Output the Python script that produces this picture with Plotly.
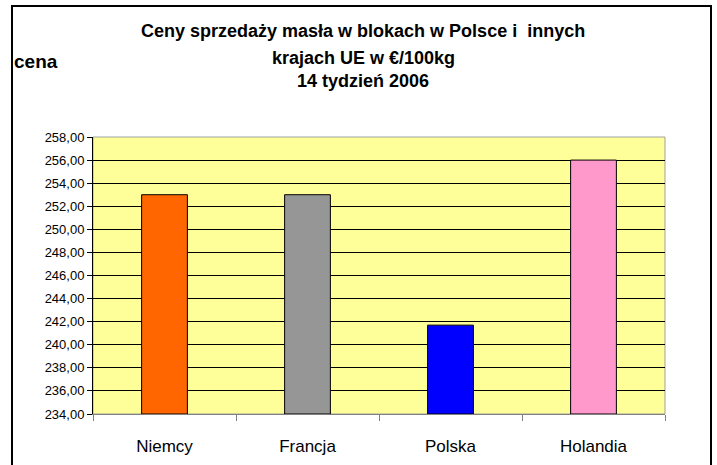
import plotly.graph_objects as go

categories = ["Niemcy", "Francja", "Polska", "Holandia"]
prices = [253.0, 253.0, 241.7, 256.0]
colors = ["#FF6600", "#969696", "#0000FF", "#FF99CC"]
title_lines = ["Ceny sprzedaży masła w blokach w Polsce i  innych",
               "krajach UE w €/100kg", "14 tydzień 2006"]
y_label = "cena"
y_min = 234

W, H = 717, 465
L, R, T, B = 93, 665, 137, 414
pw, ph = R - L, B - T

def px(x):
    return (x - L) / pw

def py(y):
    return (B - y) / ph

fig = go.Figure()
fig.add_trace(go.Bar(
    x=categories, y=[p - y_min for p in prices], base=y_min,
    marker=dict(color=colors, line=dict(color="black", width=1)),
    width=0.32,
))

fig.update_layout(
    width=W, height=H,
    margin=dict(l=L, r=W - R, t=T, b=H - B),
    paper_bgcolor="white",
    plot_bgcolor="#FFFF99",
    separators=", ",
    showlegend=False,
    font=dict(family="Arial, Liberation Sans", color="black"),
)
fig.update_yaxes(
    range=[234, 258], dtick=2, tick0=234, tickformat=".2f",
    showgrid=True, gridcolor="black", gridwidth=1,
    showline=True, linecolor="black", linewidth=1,
    ticks="outside", ticklen=5, tickcolor="black",
    tickfont=dict(size=13, family="Arial, Liberation Sans"),
    zeroline=False, automargin=False,
)
fig.update_xaxes(
    showgrid=False, showline=True, linecolor="#808080", linewidth=1,
    ticks="outside", tickson="boundaries", ticklen=6, tickcolor="#808080",
    tickfont=dict(size=17, family="Arial, Liberation Sans"),
    ticklabelstandoff=17, automargin=False,
)
# plot area border (top/right gray)
fig.add_shape(type="rect", xref="paper", yref="paper", x0=0, x1=1, y0=0, y1=1,
              line=dict(color="#A0A0A0", width=1), fillcolor="rgba(0,0,0,0)", layer="below")
# outer chart border
fig.add_shape(type="rect", xref="paper", yref="paper",
              x0=px(12), x1=px(711), y0=py(6), y1=py(480),
              line=dict(color="black", width=2), fillcolor="rgba(0,0,0,0)")

title_y = [31, 58, 81]
for t, yy in zip(title_lines, title_y):
    fig.add_annotation(text="<b>%s</b>" % t, xref="paper", yref="paper",
                       x=px(363), y=py(yy), xanchor="center", yanchor="middle",
                       showarrow=False, font=dict(size=18, family="Arial, Liberation Sans"))
fig.add_annotation(text="<b>%s</b>" % y_label, xref="paper", yref="paper",
                   x=px(12), y=py(62), xanchor="left", yanchor="middle",
                   showarrow=False, font=dict(size=19, family="Arial, Liberation Sans"))

fig.write_html("out.html", config={"displayModeBar": False},
               post_script="document.body.style.margin='0';document.body.style.overflow='hidden';")
